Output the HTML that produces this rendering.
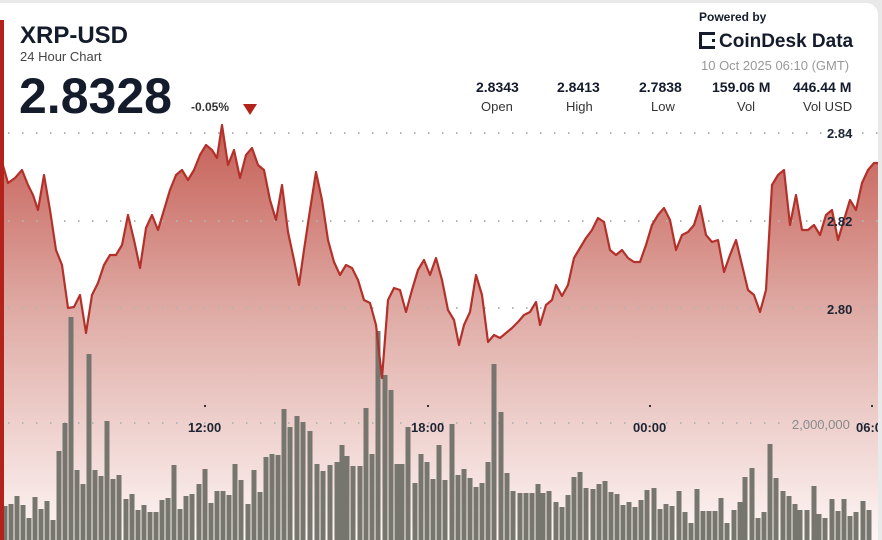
<!DOCTYPE html>
<html><head><meta charset="utf-8"><style>
body{margin:0;width:882px;height:540px;overflow:hidden;background:#e9e9e9;font-family:"Liberation Sans",sans-serif}
.card{position:absolute;left:0;top:3px;width:878px;height:537px;background:#fff;border-radius:0 12px 0 0;overflow:hidden}
.t{position:absolute;color:#141b2b;white-space:nowrap}
</style></head><body>
<div class="card">
<svg width="882" height="540" style="position:absolute;left:0;top:-3px">
<defs><linearGradient id="g" x1="0" y1="120" x2="0" y2="540" gradientUnits="userSpaceOnUse">
<stop offset="0" stop-color="#c45c53"/><stop offset="0.45" stop-color="#dfaaa4"/><stop offset="1" stop-color="#fdf6f5"/></linearGradient></defs>
<polygon fill="url(#g)" points="0,540 0,155 8,183 15,178 22,170 28,185 33,195 38,210 44,175 50,210 56,250 62,265 68,308 74,307 80,295 86,333 92,295 98,283 104,265 110,255 116,255 122,245 128,215 134,240 140,268 146,228 152,215 158,230 164,210 170,190 176,175 182,170 188,180 194,170 200,155 206,145 212,150 217,158 222,125 228,165 234,150 240,178 246,155 252,148 258,165 264,170 270,200 276,220 282,185 288,232 294,260 299,285 304,250 310,210 316,172 322,200 328,240 334,262 340,275 346,265 352,268 358,280 364,300 370,303 376,325 382,378 388,300 394,288 400,290 406,312 412,290 418,270 424,260 430,275 436,258 442,280 448,310 454,320 459,345 464,325 470,312 476,275 482,295 488,342 494,335 500,338 506,333 512,328 518,322 524,315 530,312 536,302 540,325 546,305 552,300 556,285 562,296 568,285 574,258 580,248 586,238 592,230 598,218 604,222 610,250 616,255 622,250 628,258 634,262 640,262 646,245 652,225 658,215 664,208 670,220 676,250 682,235 688,232 694,225 700,206 706,235 712,242 718,240 724,272 730,255 736,240 742,265 748,290 754,295 760,312 766,290 772,185 778,175 784,170 790,225 796,195 802,230 808,230 814,225 820,235 826,215 832,210 838,240 844,220 850,200 856,210 862,183 868,170 874,163 882,163 882,540"/>
<g stroke="#b5b5b5" stroke-width="2" stroke-dasharray="1.5 12.5">
<line x1="8" y1="133" x2="882" y2="133"/><line x1="8" y1="221" x2="882" y2="221"/><line x1="8" y1="308" x2="882" y2="308"/><line x1="8" y1="423" x2="882" y2="423"/></g>
<g fill="#76766e" id="bars"></g>
<polyline fill="none" stroke="#b3312a" stroke-width="2.2" stroke-linejoin="round" points="0,155 8,183 15,178 22,170 28,185 33,195 38,210 44,175 50,210 56,250 62,265 68,308 74,307 80,295 86,333 92,295 98,283 104,265 110,255 116,255 122,245 128,215 134,240 140,268 146,228 152,215 158,230 164,210 170,190 176,175 182,170 188,180 194,170 200,155 206,145 212,150 217,158 222,125 228,165 234,150 240,178 246,155 252,148 258,165 264,170 270,200 276,220 282,185 288,232 294,260 299,285 304,250 310,210 316,172 322,200 328,240 334,262 340,275 346,265 352,268 358,280 364,300 370,303 376,325 382,378 388,300 394,288 400,290 406,312 412,290 418,270 424,260 430,275 436,258 442,280 448,310 454,320 459,345 464,325 470,312 476,275 482,295 488,342 494,335 500,338 506,333 512,328 518,322 524,315 530,312 536,302 540,325 546,305 552,300 556,285 562,296 568,285 574,258 580,248 586,238 592,230 598,218 604,222 610,250 616,255 622,250 628,258 634,262 640,262 646,245 652,225 658,215 664,208 670,220 676,250 682,235 688,232 694,225 700,206 706,235 712,242 718,240 724,272 730,255 736,240 742,265 748,290 754,295 760,312 766,290 772,185 778,175 784,170 790,225 796,195 802,230 808,230 814,225 820,235 826,215 832,210 838,240 844,220 850,200 856,210 862,183 868,170 874,163 882,163"/>
<g fill="#333"><rect x="204" y="405" width="2" height="2"/><rect x="427" y="405" width="2" height="2"/><rect x="649" y="405" width="2" height="2"/><rect x="871" y="405" width="2" height="2"/></g>
<g font-family="Liberation Sans,sans-serif" font-weight="bold" font-size="13" fill="#1e2433">
<text x="827" y="138">2.84</text><text x="827" y="226">2.82</text><text x="827" y="314">2.80</text>
<text x="188" y="432">12:00</text><text x="411" y="432">18:00</text><text x="633" y="432">00:00</text><text x="856" y="432">06:00</text></g>
<text x="792" y="429" font-family="Liberation Sans,sans-serif" font-size="13" fill="#8a8a8a">2,000,000</text>
<rect x="0" y="20" width="4" height="520" fill="#b3231b"/>
</svg>
<div class="t" style="left:20px;top:19px;font-size:24px;font-weight:bold">XRP-USD</div>
<div class="t" style="left:20px;top:46px;font-size:13px;color:#444">24 Hour Chart</div>
<div class="t" style="left:19px;top:64px;font-size:50px;font-weight:bold">2.8328</div>
<div class="t" style="left:191px;top:97px;font-size:12px;font-weight:bold;color:#333">-0.05%</div>
<div style="position:absolute;left:243px;top:101px;width:0;height:0;border-left:7px solid transparent;border-right:7px solid transparent;border-top:11px solid #b3231b"></div>
<div class="t" style="left:699px;top:7px;font-size:12px;font-weight:bold">Powered by</div>
<div class="t" style="left:699px;top:28px;font-size:19px;font-weight:bold"><span style="display:inline-block;width:16px;height:17px;border:3px solid #141b2b;border-right-style:dotted;box-sizing:border-box;vertical-align:-2px;margin-right:4px"></span>CoinDesk Data</div>
<div class="t" style="left:701px;top:55px;font-size:13px;color:#999">10 Oct 2025 06:10 (GMT)</div>
<div class="t" style="left:476px;top:76px;font-size:14px;font-weight:bold">2.8343</div><div class="t" style="left:481px;top:96px;font-size:13px;color:#333">Open</div>
<div class="t" style="left:557px;top:76px;font-size:14px;font-weight:bold">2.8413</div><div class="t" style="left:566px;top:96px;font-size:13px;color:#333">High</div>
<div class="t" style="left:639px;top:76px;font-size:14px;font-weight:bold">2.7838</div><div class="t" style="left:651px;top:96px;font-size:13px;color:#333">Low</div>
<div class="t" style="left:712px;top:76px;font-size:14px;font-weight:bold">159.06 M</div><div class="t" style="left:737px;top:96px;font-size:13px;color:#333">Vol</div>
<div class="t" style="left:793px;top:76px;font-size:14px;font-weight:bold">446.44 M</div><div class="t" style="left:803px;top:96px;font-size:13px;color:#333">Vol USD</div>
</div>
<script>
var d=[[5,506],[11,504],[17,496],[23,505],[29,518],[35,497],[41,509],[47,501],[53,520],[59,451],[65,423],[71,317],[77,470],[83,484],[89,354],[95,470],[101,476],[107,421],[113,479],[119,475],[126,499],[132,494],[138,510],[144,505],[150,512],[156,512],[162,500],[168,498],[174,465],[180,509],[186,496],[192,494],[199,484],[205,469],[211,503],[217,491],[223,491],[229,495],[235,464],[241,480],[248,504],[254,470],[260,492],[266,457],[272,454],[278,455],[284,409],[290,427],[297,416],[303,422],[310,431],[317,464],[323,471],[330,465],[337,462],[342,445],[347,456],[353,466],[360,466],[366,408],[372,454],[378,331],[385,375],[391,390],[397,464],[402,464],[408,427],[415,483],[421,454],[427,462],[433,479],[439,445],[445,480],[452,424],[458,475],[464,469],[470,478],[476,487],[482,483],[488,462],[494,364],[501,412],[507,473],[513,491],[520,493],[526,493],[532,493],[538,484],[543,493],[549,491],[556,502],[562,507],[568,495],[574,477],[580,472],[586,488],[593,489],[599,484],[605,481],[611,492],[617,494],[623,505],[629,502],[635,507],[641,500],[647,490],[654,488],[660,509],[666,504],[672,506],[679,491],[685,512],[691,523],[697,489],[703,511],[709,511],[715,511],[721,498],[727,523],[734,510],[740,502],[745,477],[752,468],[758,518],[764,512],[770,444],[776,478],[783,491],[789,496],[795,504],[800,510],[807,510],[814,486],[819,514],[825,518],[832,499],[838,511],[844,499],[850,516],[856,512],[863,501],[869,510]];
var g=document.getElementById('bars'),s='';
d.forEach(function(p){s+='<rect x="'+(p[0]-2.5)+'" y="'+p[1]+'" width="5" height="'+(540-p[1])+'"/>';});
g.innerHTML=s;
</script>
</body></html>
